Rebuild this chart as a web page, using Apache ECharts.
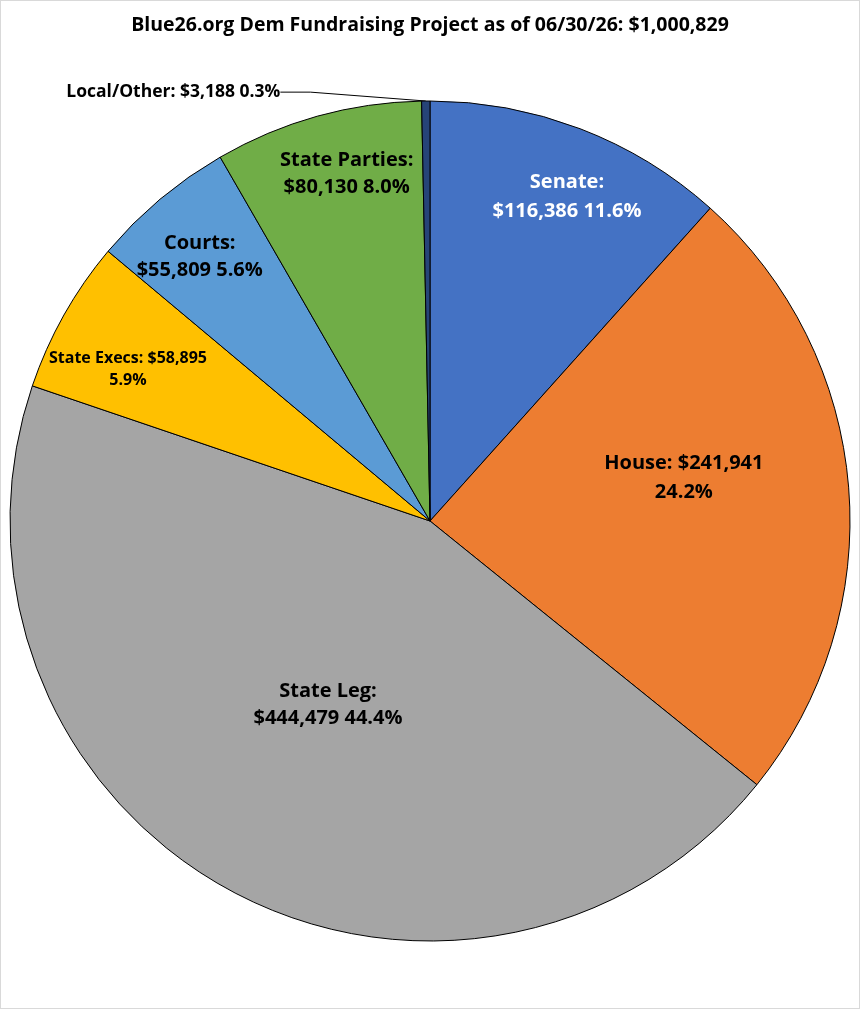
<!DOCTYPE html>
<html>
<head>
<meta charset="utf-8">
<script src="https://cdn.jsdelivr.net/npm/echarts@6/dist/echarts.min.js"></script>
<style>
  html, body { margin: 0; padding: 0; background: #fff; }
  #main { width: 860px; height: 1009px; box-sizing: border-box; border: 1px solid #d9d9d9; }
</style>
</head>
<body>
<div id="main"></div>
<script>
var categories = ['Senate', 'House', 'State Leg', 'State Execs', 'Courts', 'State Parties', 'Local/Other'];
var amounts = [116386, 241941, 444479, 58895, 55809, 80130, 3188];
var colors = ['#4472C4', '#ED7D31', '#A5A5A5', '#FFC000', '#5B9BD5', '#70AD47', '#264478'];
var titleText = 'Blue26.org Dem Fundraising Project as of 06/30/26: $1,000,829';

// label layout: where the line break goes, and a polar spot [deg from 12 o'clock, fraction of radius]
var breakAfter = ['name', 'value', 'name', 'value', 'name', 'name', 'none'];
var labelSpots = [[22.9, 0.838], [80.4, 0.613], [209, 0.501], [296.7, 0.805], [318.9, 0.834], [346.5, 0.85], [329.1, 1.19]];
var labelSizes = [20, 20, 20, 16, 20, 20, 17.5];
var labelLines = [29, 29, 27, 22, 27, 27, 20];
var labelColors = ['#fff', '#000', '#000', '#000', '#000', '#000', '#000'];

var cx = 429, cy = 520, R = 420;
var font = 'Open Sans';

var chart = echarts.init(document.getElementById('main'));

function money(v) {
  return '$' + v.toString().replace(/\B(?=(\d{3})+(?!\d))/g, ',');
}

var seriesData = categories.map(function (name, i) {
  return {
    name: name,
    value: amounts[i],
    itemStyle: { color: colors[i] },
    label: {
      position: i === 6 ? 'outside' : 'inside',
      color: labelColors[i],
      fontSize: labelSizes[i],
      lineHeight: labelLines[i]
    },
    labelLine: { show: i === 6 }
  };
});

chart.setOption({
  backgroundColor: '#fff',
  title: {
    text: titleText,
    left: 'center',
    top: 9,
    textStyle: { fontFamily: font, fontWeight: 'bold', fontSize: 19.5, color: '#000' }
  },
  series: [{
    type: 'pie',
    center: [cx, cy],
    radius: R,
    startAngle: 90,
    clockwise: true,
    animation: false,
    data: seriesData,
    itemStyle: { borderColor: '#000', borderWidth: 1 },
    label: {
      fontFamily: font,
      fontWeight: 'bold',
      align: 'center',
      formatter: function (p) {
        var i = p.dataIndex;
        var pct = p.percent.toFixed(1) + '%';
        var v = money(p.value);
        if (breakAfter[i] === 'name') return p.name + ':\n' + v + ' ' + pct;
        if (breakAfter[i] === 'value') return p.name + ': ' + v + '\n' + pct;
        return p.name + ': ' + v + ' ' + pct;
      }
    },
    labelLine: {
      lineStyle: { color: '#000', width: 1 }
    },
    labelLayout: function (p) {
      var s = labelSpots[p.dataIndex];
      var a = s[0] * Math.PI / 180;
      return {
        x: cx + s[1] * R * Math.sin(a),
        y: cy - s[1] * R * Math.cos(a),
        align: 'center',
        verticalAlign: 'middle'
      };
    }
  }]
});
</script>
</body>
</html>
